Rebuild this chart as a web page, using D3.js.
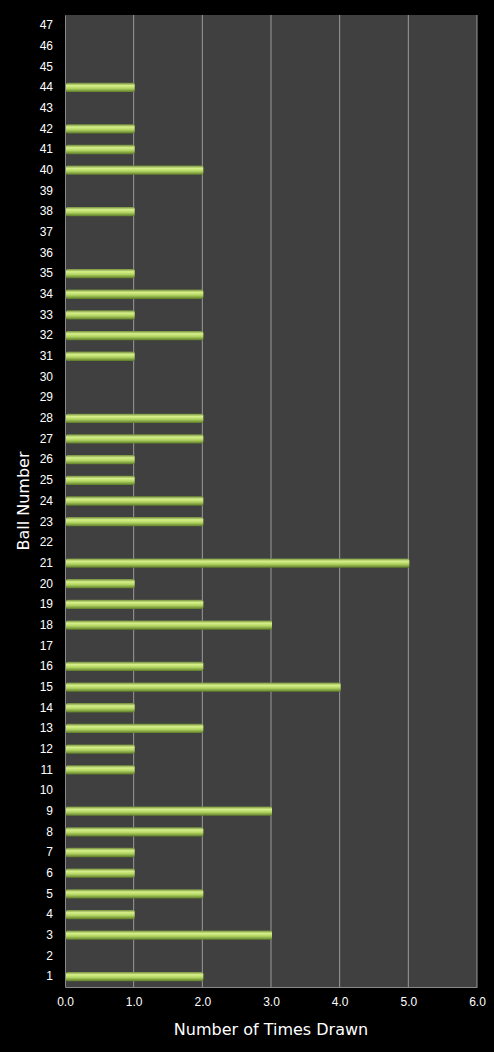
<!DOCTYPE html>
<html><head><meta charset="utf-8">
<script src="https://cdn.jsdelivr.net/npm/d3@7"></script>
<style>body{margin:0;background:#000}</style>
</head><body>
<svg id="chart" width="494" height="1052"></svg>
<script>
var balls = d3.range(1, 48);
var timesDrawn = [2,0,3,1,2,1,1,2,3,0, 1,1,2,1,4,2,0,3,2,1, 5,0,2,2,1,1,2,2,0,0, 1,2,1,2,1,0,0,1,0,2, 1,1,0,1,0,0,0];
var xTicks = [0,1,2,3,4,5,6];

var margin = { top: 15, left: 65, right: 17, bottom: 65 }
  , width = 494 - margin.left - margin.right
  , height = 1052 - margin.top - margin.bottom
  , svg = d3.select("#chart")
;

var defs = svg.append("defs");
var grad = defs.append("linearGradient").attr("id", "barGrad")
    .attr("x1", 0).attr("y1", 0).attr("x2", 0).attr("y2", 1);
grad.append("stop").attr("offset", "0%").attr("stop-color", "#6f8a3a");
grad.append("stop").attr("offset", "30%").attr("stop-color", "#d7f08a");
grad.append("stop").attr("offset", "60%").attr("stop-color", "#b2d462");
grad.append("stop").attr("offset", "100%").attr("stop-color", "#5c7a28");

var g = svg.append("g").attr("transform", "translate(" + margin.left + "," + margin.top + ")");

var x = d3.scaleLinear().domain([0, 6]).range([0, width]);
var y = d3.scaleBand().domain(balls.slice().reverse()).range([0, height]).paddingInner(0.55).paddingOuter(0.28);

g.append("rect").attr("width", width).attr("height", height).attr("fill", "#404040");

g.selectAll(".grid").data(xTicks.slice(1)).enter().append("line")
    .attr("x1", x).attr("x2", x).attr("y1", 0).attr("y2", height)
    .attr("stroke", "#9a9a9a").attr("stroke-width", 1);

g.selectAll(".bar").data(balls).enter().append("rect")
    .attr("x", x(0) + 1)
    .attr("y", function(d) { return y(d); })
    .attr("height", y.bandwidth())
    .attr("width", function(d, i) { return Math.max(0, x(timesDrawn[i]) - x(0)); })
    .attr("rx", 1.5)
    .attr("fill", "url(#barGrad)");

var xAxis = g.append("g").attr("transform", "translate(0," + height + ")")
    .call(d3.axisBottom(x).tickValues(xTicks).tickSize(0).tickPadding(10));
var yAxis = g.append("g")
    .call(d3.axisLeft(y).tickSize(0).tickPadding(12));
[xAxis, yAxis].forEach(function(a) {
    a.select(".domain").attr("stroke", "#888");
    a.selectAll("text").attr("fill", "#fff").style("font", "12px 'Liberation Sans', Arial, sans-serif");
});

svg.append("text").attr("x", margin.left + width / 2).attr("y", 1035)
    .attr("text-anchor", "middle").attr("fill", "#fff")
    .style("font", "16px 'DejaVu Sans', sans-serif").text("Number of Times Drawn");
svg.append("text").attr("transform", "translate(29," + (margin.top + height / 2) + ") rotate(-90)")
    .attr("text-anchor", "middle").attr("fill", "#fff")
    .style("font", "16px 'DejaVu Sans', sans-serif").text("Ball Number");
</script>
</body></html>
